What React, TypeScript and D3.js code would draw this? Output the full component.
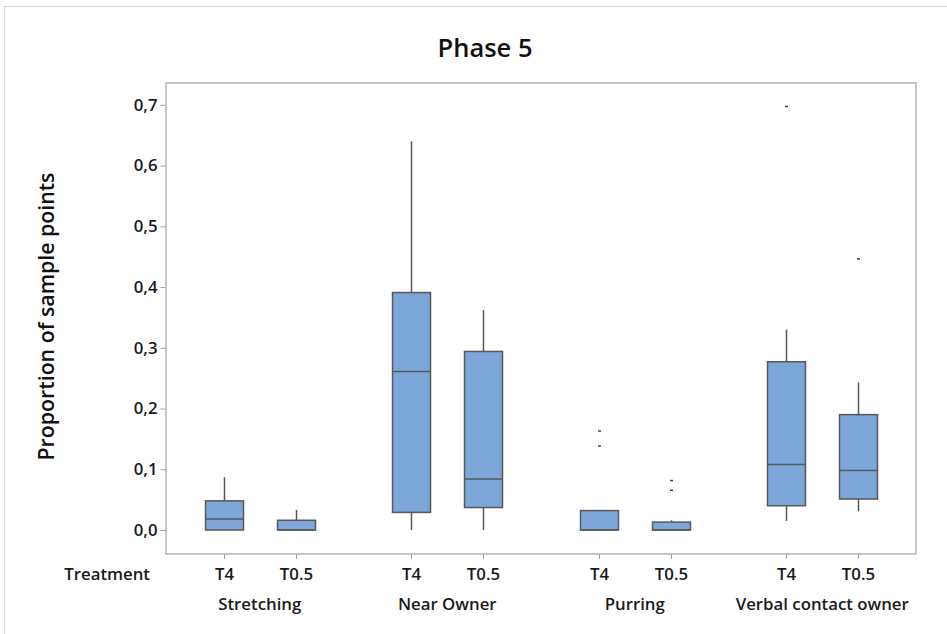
import React, { useEffect, useRef } from 'react';
import * as d3 from 'd3';

// behaviours and treatments
const behaviours = ['Stretching', 'Near Owner', 'Purring', 'Verbal contact owner'];
const treatments = ['T4', 'T0.5'];

// box stats per behaviour, in treatment order [T4, T0.5]
const whiskerLow = [[0, 0], [0, 0], [0, 0], [0.015, 0.031]];
const q1 = [[0, 0], [0.029, 0.037], [0, 0], [0.040, 0.051]];
const median = [[0.018, 0], [0.261, 0.084], [0, 0], [0.108, 0.098]];
const q3 = [[0.048, 0.016], [0.391, 0.294], [0.032, 0.013], [0.277, 0.19]];
const whiskerHigh = [[0.087, 0.033], [0.64, 0.362], [0.032, 0.016], [0.33, 0.243]];
const outliers = [[[], []], [[], []], [[0.1625, 0.138], [0.081, 0.065]], [[0.697], [0.446]]];

const yTicks = [0, 0.1, 0.2, 0.3, 0.4, 0.5, 0.6, 0.7];

const FONT = '"Open Sans", "Noto Sans", sans-serif';
const LABEL_SIZE = 16.8;

const App: React.FC = () => {
	const svgRef = useRef<SVGSVGElement | null>(null);

	useEffect(() => {
		if (svgRef.current == null) return;

		const width = 947;
		const height = 634;
		const plot = { left: 166, right: 916, top: 83, bottom: 554 };

		const y = d3.scaleLinear()
			.domain([-0.0395, 0.736])
			.range([plot.bottom, plot.top]);

		const xGroup = d3.scaleBand()
			.domain(behaviours)
			.range([plot.left, plot.right])
			.paddingInner(0)
			.paddingOuter(0);

		const xTreat = d3.scalePoint()
			.domain(treatments)
			.range([0, xGroup.bandwidth()])
			.padding(0.81);

		const boxW = 38;

		const svg = d3.select(svgRef.current);
		svg.selectAll('*').remove();
		svg.attr('width', width).attr('height', height);

		// outer frame
		svg.append('rect')
			.attr('x', 4.5).attr('y', 6.5)
			.attr('width', width + 10).attr('height', height + 10)
			.attr('fill', 'white')
			.attr('stroke', '#d4d4d4');

		// plot area
		svg.append('rect')
			.attr('x', plot.left).attr('y', plot.top)
			.attr('width', plot.right - plot.left)
			.attr('height', plot.bottom - plot.top)
			.attr('fill', 'none')
			.attr('stroke', '#b4b4b4')
			.attr('stroke-width', 1.5);

		svg.append('text')
			.attr('x', 485).attr('y', 57)
			.attr('text-anchor', 'middle')
			.attr('font-family', FONT)
			.attr('font-weight', 600)
			.attr('font-size', 25.5)
			.attr('fill', '#111')
			.text('Phase 5');

		// y axis
		const yAxis = svg.append('g')
			.attr('transform', `translate(${plot.left - 0.5},0)`)
			.call(d3.axisLeft(y).tickValues(yTicks).tickSize(5).tickPadding(3)
				.tickFormat(d => d3.format('.1f')(d as number).replace('.', ',')));
		yAxis.select('.domain').remove();
		yAxis.selectAll('line').attr('stroke', '#a0a0a0');
		yAxis.selectAll('text')
			.attr('font-family', FONT)
			.attr('font-size', LABEL_SIZE)
			.attr('font-weight', 600)
			.attr('fill', '#1a1a1a');

		svg.append('text')
			.attr('transform', `translate(54,${(plot.top + plot.bottom) / 2 - 2}) rotate(-90)`)
			.attr('text-anchor', 'middle')
			.attr('font-family', FONT)
			.attr('font-weight', 600)
			.attr('font-size', 21.3)
			.attr('fill', '#111')
			.text('Proportion of sample points');

		// x axis labels
		svg.append('text')
			.attr('x', 150).attr('y', 580)
			.attr('text-anchor', 'end')
			.attr('font-family', FONT)
			.attr('font-size', LABEL_SIZE)
			.attr('font-weight', 600)
			.attr('fill', '#1a1a1a')
			.text('Treatment');

		const groups = svg.append('g');

		behaviours.forEach((b, gi) => {
			const g0 = xGroup(b) as number;
			svg.append('text')
				.attr('x', g0 + xGroup.bandwidth() / 2)
				.attr('y', 610)
				.attr('text-anchor', 'middle')
				.attr('font-family', FONT)
				.attr('font-size', LABEL_SIZE)
				.attr('font-weight', 600)
				.attr('fill', '#1a1a1a')
				.text(b);

			treatments.forEach((t, ti) => {
				const cx = Math.round(g0 + (xTreat(t) as number)) + 0.5;

				svg.append('line')
					.attr('x1', cx).attr('x2', cx)
					.attr('y1', plot.bottom).attr('y2', plot.bottom + 5)
					.attr('stroke', '#a0a0a0');
				svg.append('text')
					.attr('x', cx).attr('y', 580)
					.attr('text-anchor', 'middle')
					.attr('font-family', FONT)
					.attr('font-size', LABEL_SIZE)
					.attr('font-weight', 600)
					.attr('fill', '#1a1a1a')
					.text(t);

				const stroke = '#575757';
				// whiskers
				groups.append('line')
					.attr('x1', cx).attr('x2', cx)
					.attr('y1', y(whiskerHigh[gi][ti])).attr('y2', y(q3[gi][ti]))
					.attr('stroke', stroke).attr('stroke-width', 1.5);
				groups.append('line')
					.attr('x1', cx).attr('x2', cx)
					.attr('y1', y(q1[gi][ti])).attr('y2', y(whiskerLow[gi][ti]))
					.attr('stroke', stroke).attr('stroke-width', 1.5);
				// box
				groups.append('rect')
					.attr('x', cx - boxW / 2)
					.attr('y', y(q3[gi][ti]))
					.attr('width', boxW)
					.attr('height', y(q1[gi][ti]) - y(q3[gi][ti]))
					.attr('fill', '#7da7d9')
					.attr('stroke', stroke)
					.attr('stroke-width', 1.5);
				groups.append('line')
					.attr('x1', cx - boxW / 2).attr('x2', cx + boxW / 2)
					.attr('y1', y(median[gi][ti])).attr('y2', y(median[gi][ti]))
					.attr('stroke', stroke).attr('stroke-width', 1.5);
				// outliers
				outliers[gi][ti].forEach(v => {
					groups.append('rect')
						.attr('x', cx - 1.5).attr('y', y(v) - 1)
						.attr('width', 3).attr('height', 1.5)
						.attr('fill', '#444');
				});
			});
		});
	}, []);

	return (
		<svg ref={svgRef} style={{ position: 'absolute', left: 0, top: 0, display: 'block' }}></svg>
	);
};

export default App;
